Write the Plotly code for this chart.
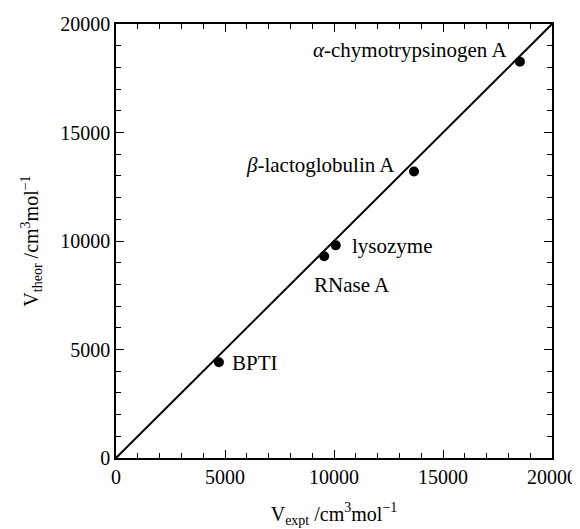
import plotly.graph_objects as go

proteins = ["BPTI", "RNase A", "lysozyme", "β-lactoglobulin A", "α-chymotrypsinogen A"]
v_expt = [4720, 9550, 10080, 13670, 18530]
v_theor = [4410, 9300, 9800, 13200, 18260]
label_text = ["BPTI", "RNase A", "lysozyme", "<i>β</i>-lactoglobulin A", "<i>α</i>-chymotrypsinogen A"]
label_x = [5250, 8990, 10730, 12890, 18030]
label_y = [4380, 7970, 9770, 13500, 18800]
label_anchor = ["left", "left", "left", "right", "right"]
line_x = [0, 20000]
line_y = [0, 20000]

FONT = "'Liberation Serif', 'Times New Roman', Times, serif"
FS = 20
FS_LABEL = 21

fig = go.Figure()
fig.add_trace(go.Scatter(x=line_x, y=line_y, mode="lines",
                         line=dict(color="black", width=2), hoverinfo="skip"))
fig.add_trace(go.Scatter(x=v_expt, y=v_theor, mode="markers", text=proteins,
                         marker=dict(color="black", size=10)))

for t, x, y, a in zip(label_text, label_x, label_y, label_anchor):
    fig.add_annotation(x=x, y=y, text=t, showarrow=False, xanchor=a, yanchor="middle",
                       font=dict(family=FONT, size=FS_LABEL, color="black"))

axis_common = dict(range=[0, 20000], dtick=5000, tickformat="d", ticks="inside", ticklen=8, tickwidth=1,
                   tickcolor="black", showline=True, linecolor="black", linewidth=1.5,
                   mirror="allticks", showgrid=False, zeroline=False,
                   tickfont=dict(family=FONT, size=FS, color="black"),
                   minor=dict(dtick=1000, ticks="inside", ticklen=5, tickcolor="black", showgrid=False))

fig.update_xaxes(**axis_common,
                 title=dict(text="V<sub>expt</sub> /cm<sup>3</sup>mol<sup>−1</sup>",
                            font=dict(family=FONT, size=FS, color="black"), standoff=20))
fig.update_yaxes(**axis_common,
                 title=dict(text="V<sub>theor</sub> /cm<sup>3</sup>mol<sup>−1</sup>",
                            font=dict(family=FONT, size=FS, color="black"), standoff=16))

# the page body has an 8px default margin, so the figure is sized and placed to compensate
fig.update_layout(width=572, height=521, showlegend=False,
                  font=dict(family=FONT, color="black"),
                  plot_bgcolor="white", paper_bgcolor="white",
                  margin=dict(l=108, r=28, t=16, b=71, autoexpand=False))

fig.write_html("out.html")
